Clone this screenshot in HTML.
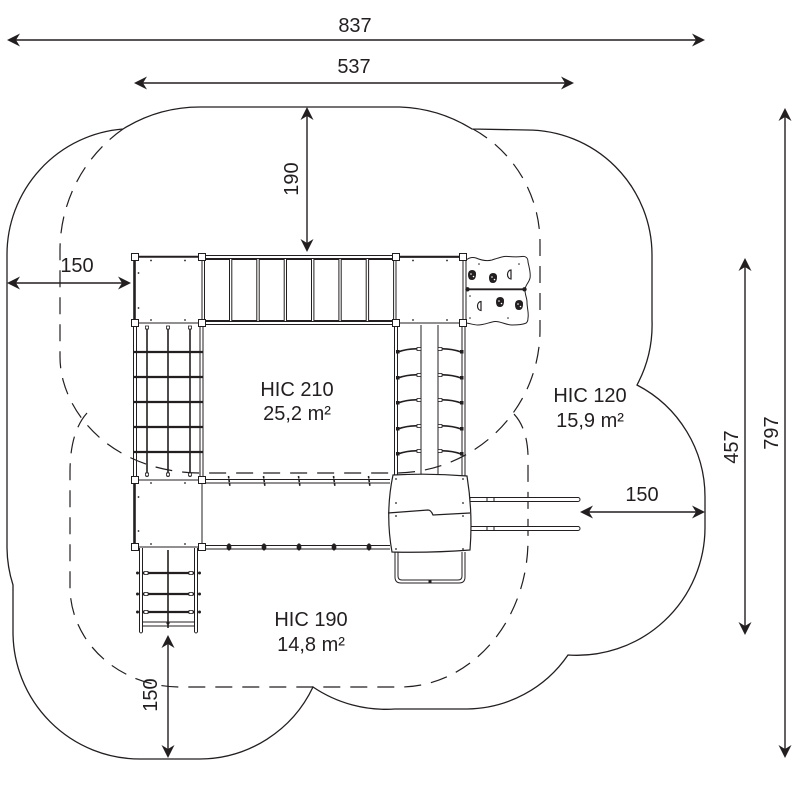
<!DOCTYPE html>
<html><head><meta charset="utf-8">
<style>html,body{margin:0;padding:0;background:#fff}svg{display:block}
text{font-family:"Liberation Sans",Arial,sans-serif;font-size:20px;fill:#231f20}</style>
</head><body>
<svg width="800" height="800" viewBox="0 0 800 800" xmlns="http://www.w3.org/2000/svg">
<rect width="800" height="800" fill="#fff"/>

<!-- outer safety outline -->
<g fill="none" stroke="#231f20" stroke-width="1.3">
<path d="M7,255 A126,126 0 0 1 123,129 A146,146 0 0 1 200,107 L400,107 A146,146 0 0 1 472,129 L527,130 A125,125 0 0 1 652,255 L652,320 A128,128 0 0 1 637,385 A126,126 0 0 1 705,497 L705,528 A128,128 0 0 1 568,655 A124,124 0 0 1 467,709 L395,709 A130,130 0 0 1 313,687 A126,126 0 0 1 200,759 L140,759 A127,127 0 0 1 13,632 L13,585 A126,126 0 0 1 7,548 Z"/>
</g>
<!-- dashed HIC zones -->
<g fill="none" stroke="#231f20" stroke-width="1.2" stroke-dasharray="17 10">
<path d="M123,129 A148,148 0 0 0 60,250 L60,357 C60,410 110,472 200,473 L395,473 A145,143 0 0 0 540,330 L540,243 A130,130 0 0 0 473,129"/>
<path d="M87,413 Q70,432 70,472 L70,587 A110,100 0 0 0 180,687 L400,687 A128,147 0 0 0 528,540 L528,455 Q527,427 513,413"/>
</g>

<!-- structure -->
<g stroke="#231f20" stroke-width="1" fill="none">
<!-- monkey bars -->
<line x1="202" y1="255.5" x2="396" y2="255.5"/><line x1="202" y1="258.5" x2="396" y2="258.5"/>
<line x1="202" y1="321.5" x2="396" y2="321.5"/><line x1="202" y1="324.5" x2="396" y2="324.5"/>
<rect x="204.5" y="259.5" width="25" height="61"/>
<rect x="231.8" y="259.5" width="25" height="61"/>
<rect x="259.2" y="259.5" width="25" height="61"/>
<rect x="286.5" y="259.5" width="25" height="61"/>
<rect x="313.9" y="259.5" width="25" height="61"/>
<rect x="341.2" y="259.5" width="25" height="61"/>
<rect x="368.6" y="259.5" width="25" height="61"/>

<!-- left net -->
<line x1="133.5" y1="323" x2="133.5" y2="480"/><line x1="136.5" y1="323" x2="136.5" y2="480"/>
<line x1="200" y1="323" x2="200" y2="480"/><line x1="203" y1="323" x2="203" y2="480"/>
<g stroke-width="1.6">
<line x1="147" y1="326" x2="147" y2="477"/><line x1="168" y1="326" x2="168" y2="477"/><line x1="190" y1="326" x2="190" y2="477"/>
</g>
<g stroke-width="2.2">
<line x1="133" y1="352" x2="203" y2="352"/><line x1="133" y1="377" x2="203" y2="377"/>
<line x1="133" y1="402" x2="203" y2="402"/><line x1="133" y1="427" x2="203" y2="427"/>
<line x1="133" y1="452" x2="203" y2="452"/>
</g>
<g fill="#fff" stroke-width="0.8">
<rect x="145.5" y="326" width="3" height="3"/><rect x="166.5" y="326" width="3" height="3"/><rect x="188.5" y="326" width="3" height="3"/>
<rect x="145.5" y="473" width="3" height="3"/><rect x="166.5" y="473" width="3" height="3"/><rect x="188.5" y="473" width="3" height="3"/>
</g>

<!-- bottom ladder -->
<line x1="139.5" y1="548" x2="139.5" y2="632"/><line x1="142.5" y1="548" x2="142.5" y2="632"/>
<line x1="194.5" y1="548" x2="194.5" y2="632"/><line x1="197.5" y1="548" x2="197.5" y2="632"/>
<path d="M139.5,632 Q141,634 142.5,632 M194.5,632 Q196,634 197.5,632"/>
<line x1="168" y1="550" x2="168" y2="628" stroke-width="1.6"/>
<g stroke-width="2.2">
<line x1="143" y1="573" x2="194" y2="573"/><line x1="143" y1="594" x2="194" y2="594"/><line x1="143" y1="612" x2="194" y2="612"/>
</g>
<line x1="142" y1="622" x2="195" y2="622"/><line x1="142" y1="626" x2="195" y2="626"/>
<g fill="#fff" stroke-width="0.8">
<rect x="144" y="571.5" width="4" height="3"/><rect x="189" y="571.5" width="4" height="3"/>
<rect x="144" y="592.5" width="4" height="3"/><rect x="189" y="592.5" width="4" height="3"/>
<rect x="144" y="610.5" width="4" height="3"/><rect x="189" y="610.5" width="4" height="3"/>
</g>
<g fill="#231f20" stroke="none">
<circle cx="137.5" cy="573" r="1.5"/><circle cx="199.5" cy="573" r="1.5"/>
<circle cx="137.5" cy="594" r="1.5"/><circle cx="199.5" cy="594" r="1.5"/>
<circle cx="137.5" cy="612" r="1.5"/><circle cx="199.5" cy="612" r="1.5"/>
<circle cx="168" cy="623" r="1.6"/>
</g>

<!-- right step ladder -->
<line x1="394.5" y1="323" x2="394.5" y2="476"/><line x1="397.5" y1="323" x2="397.5" y2="476"/>
<line x1="462" y1="323" x2="462" y2="476"/><line x1="465" y1="323" x2="465" y2="476"/>
<line x1="421" y1="325" x2="421" y2="476"/><line x1="438" y1="325" x2="438" y2="476"/>
<g stroke-width="1.6">
<path d="M398,352 Q409,348 420,349 M438,349 Q450,348 461,352"/>
<path d="M398,378 Q409,374 420,375 M438,375 Q450,374 461,378"/>
<path d="M398,403 Q409,399 420,400 M438,400 Q450,399 461,403"/>
<path d="M398,429 Q409,425 420,426 M438,426 Q450,425 461,429"/>
<path d="M398,454 Q409,450 420,451 M438,451 Q450,450 461,454"/>
</g>
<g fill="#231f20" stroke="none">
<rect x="396" y="350" width="3.5" height="3.5"/><rect x="460" y="350" width="3.5" height="3.5"/>
<rect x="396" y="376" width="3.5" height="3.5"/><rect x="460" y="376" width="3.5" height="3.5"/>
<rect x="396" y="401" width="3.5" height="3.5"/><rect x="460" y="401" width="3.5" height="3.5"/>
<rect x="396" y="427" width="3.5" height="3.5"/><rect x="460" y="427" width="3.5" height="3.5"/>
<rect x="396" y="452" width="3.5" height="3.5"/><rect x="460" y="452" width="3.5" height="3.5"/>
</g>
<g fill="#fff" stroke-width="0.8">
<rect x="417" y="347.5" width="4" height="3"/><rect x="438" y="347.5" width="4" height="3"/>
<rect x="417" y="373.5" width="4" height="3"/><rect x="438" y="373.5" width="4" height="3"/>
<rect x="417" y="398.5" width="4" height="3"/><rect x="438" y="398.5" width="4" height="3"/>
<rect x="417" y="424.5" width="4" height="3"/><rect x="438" y="424.5" width="4" height="3"/>
<rect x="417" y="449.5" width="4" height="3"/><rect x="438" y="449.5" width="4" height="3"/>
</g>

<!-- bridge -->
<line x1="205" y1="479.5" x2="390" y2="479.5"/><line x1="205" y1="483" x2="390" y2="483"/>
<line x1="205" y1="545.5" x2="390" y2="545.5"/><line x1="205" y1="549" x2="390" y2="549"/>
<g stroke-width="1.6" stroke-dasharray="2.5 1.2">
<line x1="228.5" y1="476" x2="230" y2="487"/><line x1="263.5" y1="476" x2="265" y2="487"/>
<line x1="298.5" y1="476" x2="300" y2="487"/><line x1="333.5" y1="476" x2="335" y2="487"/>
<line x1="368.5" y1="476" x2="370" y2="487"/>
</g>
<g fill="#231f20" stroke="none">
<ellipse cx="229" cy="547" rx="2.4" ry="3.6"/><ellipse cx="264" cy="547" rx="2.4" ry="3.6"/>
<ellipse cx="299" cy="547" rx="2.4" ry="3.6"/><ellipse cx="334" cy="547" rx="2.4" ry="3.6"/>
<ellipse cx="369" cy="547" rx="2.4" ry="3.6"/>
</g>

<!-- platforms -->
<rect x="135" y="257" width="67" height="66" fill="#fff"/>
<rect x="396" y="257" width="67" height="66" fill="#fff"/>
<rect x="135" y="480" width="67" height="67" fill="#fff"/>
<line x1="134.5" y1="257" x2="134.5" y2="323" stroke-width="2.6"/>
<line x1="135" y1="256.8" x2="202" y2="256.8" stroke-width="2"/>
<line x1="396" y1="256.8" x2="463" y2="256.8" stroke-width="2.2"/>
<line x1="134.5" y1="480" x2="134.5" y2="547" stroke-width="2.6"/>
<g fill="#231f20" stroke="none">
<circle cx="151" cy="260.5" r="0.9"/><circle cx="185" cy="260.5" r="0.9"/><circle cx="138.5" cy="273" r="0.9"/><circle cx="138.5" cy="308" r="0.9"/>
<circle cx="151" cy="320" r="0.9"/><circle cx="185" cy="320" r="0.9"/>
<circle cx="413" cy="260.5" r="0.9"/><circle cx="447" cy="260.5" r="0.9"/><circle cx="413" cy="320" r="0.9"/><circle cx="447" cy="320" r="0.9"/>
<circle cx="151" cy="483" r="0.9"/><circle cx="185" cy="483" r="0.9"/><circle cx="138.5" cy="497" r="0.9"/><circle cx="138.5" cy="531" r="0.9"/>
<circle cx="151" cy="544" r="0.9"/><circle cx="185" cy="544" r="0.9"/>
</g>

<!-- climbing wall -->
<path fill="#fff" d="M466,260 C470,257 473,257 476,258 C483,261 488,261 492,260 C498,258 503,256 508,256.5 C514,257 518,257 522,256.5 C526,256 528,258 528,262 C529,267 531,273 530,278 C529,283 525,285 525,290 C525,295 527,298 527,302 C527,308 529,313 528,318 C528,321 527,323 525,323.5 C521,325 516,325 512,325 C506,325 500,321 495,321.5 C490,322 484,325 478,325 C473,325 469,323 466,323 Z"/>
<line x1="467" y1="289.3" x2="525" y2="289.3" stroke-width="1.8"/>
<g fill="#231f20" stroke="none">
<circle cx="467.5" cy="289.3" r="2.2"/><circle cx="524.5" cy="289.3" r="2.2"/>
<path d="M468,275 Q468,270 472,270 Q476,270 476,274 Q476,280 472,280 Q468,280 468,275 Z"/>
<path d="M489,278 Q489,273 493,273 Q497,273 497,277 Q497,283 493,283 Q489,283 489,278 Z"/>
<path d="M496,302 Q496,297 500,297 Q504,297 504,301 Q504,307 500,307 Q496,307 496,302 Z"/>
<path d="M515,305 Q515,300 519,300 Q523,300 523,304 Q523,310 519,310 Q515,310 515,305 Z"/>
<circle cx="479" cy="264" r="0.8"/><circle cx="519" cy="264" r="0.8"/><circle cx="470" cy="296" r="0.8"/><circle cx="508" cy="318" r="0.8"/><circle cx="470" cy="318" r="0.8"/>
</g>
<g fill="#fff" stroke="none">
<circle cx="471" cy="274" r="0.8"/><circle cx="473.5" cy="276.5" r="0.8"/>
<circle cx="492" cy="277" r="0.8"/><circle cx="494.5" cy="279.5" r="0.8"/>
<circle cx="499" cy="301" r="0.8"/><circle cx="501.5" cy="303.5" r="0.8"/>
<circle cx="518" cy="304" r="0.8"/><circle cx="520.5" cy="306.5" r="0.8"/>
</g>
<path d="M511,270 A3.5,4.5 0 0 0 511,279 Z" fill="#fff" stroke-width="1.2"/>
<path d="M481,301.5 A3.5,4.5 0 0 0 481,310.5 Z" fill="#fff" stroke-width="1.2"/>

<!-- slide -->
<path fill="#fff" d="M470,497.5 L578,497.5 A2,2 0 0 1 578,501.5 L470,501.5 Z"/>
<path fill="#fff" d="M470,526.5 L578,526.5 A2,2 0 0 1 578,530.5 L470,530.5 Z"/>
<line x1="487" y1="497.5" x2="487" y2="501.5"/><line x1="494" y1="497.5" x2="494" y2="501.5"/>
<line x1="487" y1="526.5" x2="487" y2="530.5"/><line x1="494" y1="526.5" x2="494" y2="530.5"/>
<path d="M395,552 L395,577 Q395,583 401,583 L459,583 Q465,583 465,577 L465,552"/>
<path d="M398,552 L398,576 Q398,580 402,580 L458,580 Q462,580 462,576 L462,552"/>
<rect x="428.5" y="580" width="3" height="3" fill="#231f20" stroke="none"/>
<path fill="#fff" stroke-width="1.2" d="M393,475 Q430,473 467,476 Q473,513 470,550 Q431,553 392,552 Q385,513 393,475 Z"/>
<path d="M388,513 L428,510 Q431,510 433,515 L470,513" stroke-width="1.2"/>
<g fill="#231f20" stroke="none">
<circle cx="396" cy="479" r="0.9"/><circle cx="463" cy="479" r="0.9"/>
<circle cx="396" cy="503" r="0.9"/><circle cx="463" cy="503" r="0.9"/>
<circle cx="396" cy="516" r="0.9"/><circle cx="463" cy="516" r="0.9"/>
<circle cx="396" cy="549" r="0.9"/><circle cx="463" cy="549" r="0.9"/>
</g>

<!-- posts -->
<g fill="#fff" stroke-width="1">
<rect x="131.5" y="253.5" width="7" height="7"/><rect x="198.5" y="253.5" width="7" height="7"/>
<rect x="131.5" y="319.5" width="7" height="7"/><rect x="198.5" y="319.5" width="7" height="7"/>
<rect x="392.5" y="253.5" width="7" height="7"/><rect x="459.5" y="253.5" width="7" height="7"/>
<rect x="392.5" y="319.5" width="7" height="7"/><rect x="459.5" y="319.5" width="7" height="7"/>
<rect x="131.5" y="476.5" width="7" height="7"/><rect x="198.5" y="476.5" width="7" height="7"/>
<rect x="131.5" y="543.5" width="7" height="7"/><rect x="198.5" y="543.5" width="7" height="7"/>
</g>
</g>

<!-- dimension lines -->
<g stroke="#231f20" stroke-width="1.4" fill="none">
<line x1="12" y1="40" x2="700" y2="40"/>
<line x1="139" y1="83" x2="569" y2="83"/>
<line x1="307" y1="112" x2="307" y2="247"/>
<line x1="12" y1="283" x2="126" y2="283"/>
<line x1="585" y1="512" x2="700" y2="512"/>
<line x1="168" y1="640" x2="168" y2="753"/>
<line x1="745" y1="263" x2="745" y2="630"/>
<line x1="785" y1="113" x2="785" y2="753"/>
</g>
<g fill="#231f20">
<!-- 837 -->
<path d="M7,40 L20,33.5 L16,40 L20,46.5 Z"/><path d="M705,40 L692,33.5 L696,40 L692,46.5 Z"/>
<!-- 537 -->
<path d="M134,83 L147,76.5 L143,83 L147,89.5 Z"/><path d="M574,83 L561,76.5 L565,83 L561,89.5 Z"/>
<!-- 190 -->
<path d="M307,107 L300.5,120 L307,116 L313.5,120 Z"/><path d="M307,252 L300.5,239 L307,243 L313.5,239 Z"/>
<!-- left 150 -->
<path d="M7,283 L20,276.5 L16,283 L20,289.5 Z"/><path d="M131,283 L118,276.5 L122,283 L118,289.5 Z"/>
<!-- right 150 -->
<path d="M580,512 L593,505.5 L589,512 L593,518.5 Z"/><path d="M705,512 L692,505.5 L696,512 L692,518.5 Z"/>
<!-- bottom 150 -->
<path d="M168,635 L161.5,648 L168,644 L174.5,648 Z"/><path d="M168,758 L161.5,745 L168,749 L174.5,745 Z"/>
<!-- 457 -->
<path d="M745,258 L738.5,271 L745,267 L751.5,271 Z"/><path d="M745,635 L738.5,622 L745,626 L751.5,622 Z"/>
<!-- 797 -->
<path d="M785,108 L778.5,121 L785,117 L791.5,121 Z"/><path d="M785,758 L778.5,745 L785,749 L791.5,745 Z"/>
</g>

<!-- texts -->
<text x="355" y="32" text-anchor="middle">837</text>
<text x="354" y="73" text-anchor="middle">537</text>
<text transform="translate(298,179) rotate(-90)" text-anchor="middle">190</text>
<text x="77" y="272" text-anchor="middle">150</text>
<text x="642" y="501" text-anchor="middle">150</text>
<text transform="translate(157,695) rotate(-90)" text-anchor="middle">150</text>
<text transform="translate(738,447) rotate(-90)" text-anchor="middle">457</text>
<text transform="translate(778,433) rotate(-90)" text-anchor="middle">797</text>

<text x="297" y="396" text-anchor="middle">HIC 210</text>
<text x="297" y="420" text-anchor="middle">25,2 m²</text>
<text x="590" y="402" text-anchor="middle">HIC 120</text>
<text x="590" y="427" text-anchor="middle">15,9 m²</text>
<text x="311" y="626" text-anchor="middle">HIC 190</text>
<text x="311" y="651" text-anchor="middle">14,8 m²</text>
</svg>
</body></html>
